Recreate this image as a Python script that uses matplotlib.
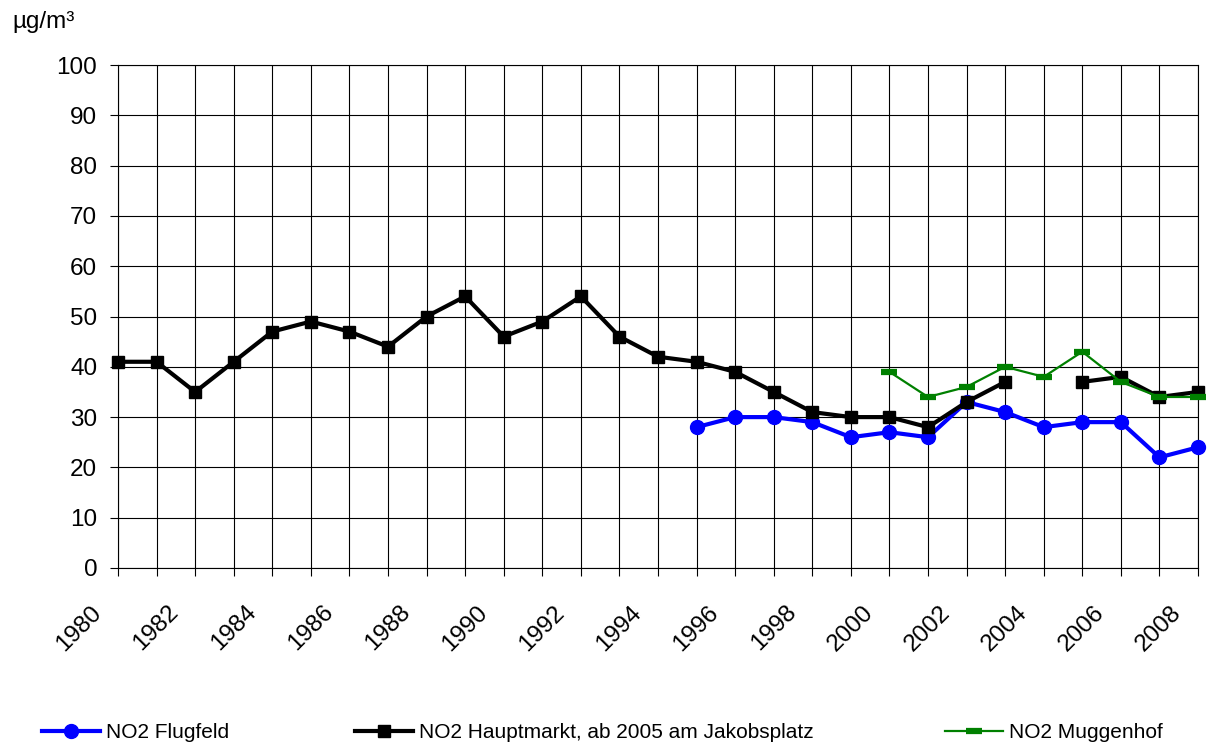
import matplotlib
matplotlib.use("Agg")
import matplotlib.pyplot as plt
import matplotlib.transforms as mtransforms
import numpy as np

plt.rcParams['font.family'] = ['Liberation Sans', 'DejaVu Sans']

years = list(range(1980, 2009))
tick_labels = [str(y) if y % 2 == 0 else "" for y in years]

nan = np.nan
hauptmarkt = [41, 41, 35, 41, 47, 49, 47, 44, 50, 54, 46, 49, 54, 46, 42, 41, 39,
              35, 31, 30, 30, 28, 33, 37, nan, 37, 38, 34, 35]
flugfeld = [nan] * 15 + [28, 30, 30, 29, 26, 27, 26, 33, 31, 28, 29, 29, 22, 24]
muggenhof = [nan] * 20 + [39, 34, 36, 40, 38, 43, 37, 34, 34]

labels = ["NO2 Flugfeld", "NO2 Hauptmarkt, ab 2005 am Jakobsplatz", "NO2 Muggenhof"]
unit = "µg/m³"

W, H = 1215, 747
fig = plt.figure(figsize=(W / 100, H / 100), dpi=100)
ax = fig.add_axes([118 / W, (H - 568) / H, (1198 - 118) / W, (568 - 65) / H])

x = np.arange(len(years))
l_blue, = ax.plot(x, flugfeld, color='#0000FF', lw=3, marker='o', ms=10,
                  clip_on=False, zorder=4)
l_black, = ax.plot(x, hauptmarkt, color='black', lw=3, marker='s', ms=9,
                   clip_on=False, zorder=5)
l_green, = ax.plot(x, muggenhof, color='#008000', lw=1.6, marker='_', ms=11,
                   mew=4.5, clip_on=False, zorder=6)

ax.set_xlim(0, len(years) - 1)
ax.set_ylim(0, 100)
ax.set_yticks(np.arange(0, 101, 10))
ax.set_xticks(x)
ax.set_xticklabels(tick_labels, rotation=45, ha='right', va='top')
ax.grid(True, color='black', lw=0.8)
ax.set_axisbelow(True)
for s in ax.spines.values():
    s.set_color('black')
    s.set_linewidth(0.8)
ax.tick_params(axis='y', length=6, width=0.8, pad=9, labelsize=17.5)
ax.tick_params(axis='x', length=6, width=0.8, pad=18, labelsize=17.5)
offset = mtransforms.ScaledTranslation(-12 / 100, 0, fig.dpi_scale_trans)
for lab in ax.get_xticklabels():
    lab.set_transform(lab.get_transform() + offset)

fig.text(12 / W, (H - 22) / H, unit, fontsize=17.5, va='center', ha='left')

handles = [l_blue, l_black, l_green]
xs = [42, 355, 945]
for h, lab, xp in zip(handles, labels, xs):
    fig.legend([h], [lab], loc='center left', bbox_to_anchor=(xp / W, (H - 733) / H),
               frameon=False, borderpad=0, borderaxespad=0, fontsize=15,
               handlelength=2.8, handletextpad=0.25, markerscale=1.0)

fig.savefig("out.png", dpi=100)
